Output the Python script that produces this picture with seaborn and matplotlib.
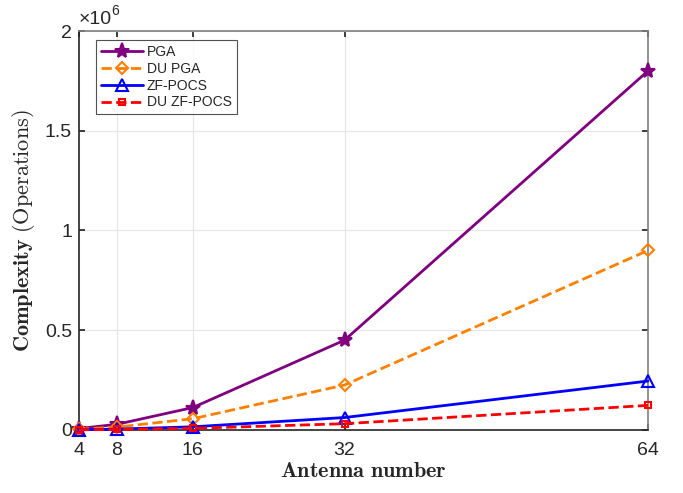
import numpy as np
import pandas as pd
import matplotlib
matplotlib.use("Agg")
import matplotlib.pyplot as plt
import seaborn as sns

# Data
antennas = [4, 8, 16, 32, 64]
pga = [7000, 28000, 112000, 450000, 1800000]
du_pga = [3500, 14000, 56000, 225000, 900000]
zf_pocs = [1000, 4000, 15500, 62000, 245000]
du_zf_pocs = [500, 2000, 7800, 31000, 123000]

series = ["PGA", "DU PGA", "ZF-POCS", "DU ZF-POCS"]
colors = ["#800080", "#FF8000", "#0000FF", "#FF0000"]
markers = ["*", "D", "^", "s"]
msizes = [11, 6, 8, 5]
dashed = [False, True, False, True]

df = pd.concat([
    pd.DataFrame({"N": antennas, "ops": vals, "alg": name})
    for name, vals in zip(series, [pga, du_pga, zf_pocs, du_zf_pocs])
])

sns.set_theme(style="white")
plt.rcParams["font.family"] = ["Liberation Sans", "DejaVu Sans"]
plt.rcParams["mathtext.fontset"] = "cm"

fig = plt.figure(figsize=(6.83, 4.93), dpi=100)
ax = fig.add_axes([0.1157, 0.128, 0.833, 0.809])

for name, c, m, ms, d in zip(series, colors, markers, msizes, dashed):
    sub = df[df["alg"] == name]
    sns.lineplot(data=sub, x="N", y="ops", ax=ax, color=c, marker=m,
                 markersize=ms, markerfacecolor="none" if m != "*" else c,
                 markeredgecolor=c, markeredgewidth=1.5, linewidth=2,
                 linestyle="--" if d else "-", label=name, clip_on=False,
                 zorder=3)

ax.set_xlim(4, 64)
ax.set_ylim(0, 2e6)
ax.set_xticks(antennas)
ax.set_yticks([0, 0.5e6, 1e6, 1.5e6, 2e6])
ax.set_yticklabels(["0", "0.5", "1", "1.5", "2"])
ax.text(0.0, 1.008, "×10", transform=ax.transAxes, fontsize=14,
        ha="left", va="bottom", color="#262626")
ax.text(0.057, 1.033, "6", transform=ax.transAxes, fontsize=10,
        ha="left", va="bottom", color="#262626")
ax.tick_params(labelsize=14, colors="#262626", direction="in", length=4,
               left=True, bottom=True, right=True, top=True)
ax.tick_params(axis="x", pad=9)
ax.tick_params(axis="y", pad=5)
ax.grid(True, color="#e6e6e6", linewidth=0.8)
for s in ax.spines.values():
    s.set_color("#808080")
    s.set_linewidth(1.2)
ax.spines["left"].set_color("#262626")
ax.spines["bottom"].set_color("#262626")

ax.set_xlabel(r"$\mathbf{Antenna\ number}$", fontsize=16, labelpad=1)
ax.set_ylabel(r"$\mathbf{Complexity}\ \mathrm{(Operations)}$", fontsize=16, labelpad=6)

leg = ax.legend(loc="upper left", fontsize=10, frameon=True, fancybox=False,
                edgecolor="#262626", handlelength=3.0, borderpad=0.35,
                labelspacing=0.2, handletextpad=0.3, borderaxespad=0,
                bbox_to_anchor=(0.03, 0.977))
leg.get_frame().set_linewidth(0.8)

fig.savefig("out.png", dpi=100)
